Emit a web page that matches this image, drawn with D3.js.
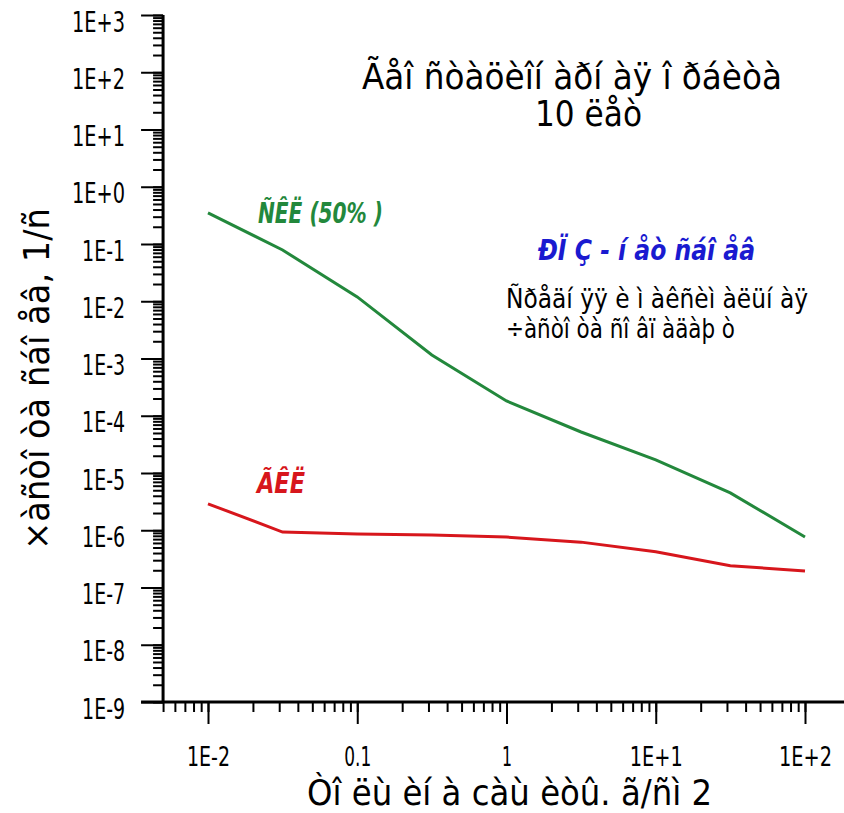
<!DOCTYPE html>
<html><head><meta charset="utf-8">
<script src="https://cdn.jsdelivr.net/npm/d3@7"></script>
<style>
html,body{margin:0;padding:0;background:#fff;}
svg{display:block;}
text{font-family:"Liberation Sans Narrow","Arial Narrow","DejaVu Sans Condensed","Liberation Sans",sans-serif;}
</style></head>
<body>
<svg id="c" width="844" height="813"></svg>
<script>
// ---- data ----
const xValues = [0.01, 0.0316, 0.1, 0.316, 1, 3.16, 10, 31.6, 100];
const skl50 = [0.35, 0.0785, 0.0119, 1.15e-3, 1.81e-4, 5.2e-5, 1.69e-5, 4.5e-6, 7.6e-7];
const gkl = [2.9e-6, 9.3e-7, 8.6e-7, 8.3e-7, 7.6e-7, 6.2e-7, 4.2e-7, 2.4e-7, 1.94e-7];
const seriesNames = ["ÑÊË (50% )", "ÃÊË"];
const yTickLabels = ["1E+3","1E+2","1E+1","1E+0","1E-1","1E-2","1E-3","1E-4","1E-5","1E-6","1E-7","1E-8","1E-9"];
const yTickValues = [1e3,1e2,1e1,1e0,1e-1,1e-2,1e-3,1e-4,1e-5,1e-6,1e-7,1e-8,1e-9];
const xTickLabels = ["1E-2","0.1","1","1E+1","1E+2"];
const xTickValues = [0.01,0.1,1,10,100];
const titleLines = ["Ãåî ñòàöèîí àðí àÿ î ðáèòà", "10 ëåò"];
const noteBlue = "ÐÏ Ç - í åò  ñáî åâ";
const noteLines = ["Ñðåäí ÿÿ è ì àêñèì àëüí àÿ", "÷àñòî òà ñî âï àäàþ ò"];
const xAxisTitle = "Òî ëù èí à càù èòû. ã/ñì 2";
const yAxisTitle = "×àñòî òà ñáî åâ, 1/ñ";

const svg = d3.select("#c");
const x = d3.scaleLog().domain([0.01, 100]).range([208, 805]);
const y = d3.scaleLog().domain([1e-9, 1e3]).range([702, 15]);
const xMin = 0.005, xMax = 200;
const x0 = x(xMin);

function minors(lo, hi) {
  const out = [];
  for (let e = Math.floor(Math.log10(lo)); e <= Math.ceil(Math.log10(hi)); e++) {
    for (let m = 1; m <= 9; m++) {
      const v = m * Math.pow(10, e);
      if (v >= lo * 0.999 && v <= hi * 1.001) out.push(v);
    }
  }
  return out;
}
function labelWidth(t) {
  if (t.length === 1) return 10;
  if (t.length === 3) return 27;
  return t.indexOf("+") >= 0 ? 53 : 43;
}

// Y axis
const yAxis = d3.axisLeft(y).tickValues(minors(1e-9, 1e3)).tickSize(10).tickFormat("");
const gy = svg.append("g").attr("transform", `translate(${x0},0)`).call(yAxis);
gy.select(".domain").remove();
gy.selectAll(".tick line").attr("stroke", "#000").attr("stroke-width", 2);
const yMajor = d3.axisLeft(y).tickValues(yTickValues).tickSize(22).tickPadding(16)
  .tickFormat((d, i) => yTickLabels[i]);
const gy2 = svg.append("g").attr("transform", `translate(${x0},0)`).call(yMajor);
gy2.select(".domain").remove();
gy2.selectAll(".tick line").attr("stroke", "#000").attr("stroke-width", 2);
gy2.selectAll(".tick text").attr("font-size", 28).attr("fill", "#000").attr("dy", 16)
  .each(function(d, i) {
    d3.select(this).attr("textLength", labelWidth(yTickLabels[i])).attr("lengthAdjust", "spacingAndGlyphs");
  });
svg.append("line").attr("x1", x0).attr("x2", x0).attr("y1", y(1e3)).attr("y2", y(1e-9))
  .attr("stroke", "#000").attr("stroke-width", 3);

// X axis
const xAxis = d3.axisBottom(x).tickValues(minors(xMin, xMax)).tickSize(10).tickFormat("");
const gx = svg.append("g").attr("transform", `translate(0,${y(1e-9)})`).call(xAxis);
gx.select(".domain").remove();
gx.selectAll(".tick line").attr("stroke", "#000").attr("stroke-width", 2);
const xMajor = d3.axisBottom(x).tickValues(xTickValues).tickSize(22).tickPadding(0)
  .tickFormat((d, i) => xTickLabels[i]);
const gx2 = svg.append("g").attr("transform", `translate(0,${y(1e-9)})`).call(xMajor);
gx2.select(".domain").remove();
gx2.selectAll(".tick line").attr("stroke", "#000").attr("stroke-width", 2);
gx2.selectAll(".tick text").attr("font-size", 26).attr("fill", "#000").attr("y", 64).attr("dy", 0)
  .each(function(d, i) {
    d3.select(this).attr("textLength", labelWidth(xTickLabels[i])).attr("lengthAdjust", "spacingAndGlyphs");
  });
svg.append("line").attr("x1", x0 - 22).attr("x2", 844).attr("y1", y(1e-9)).attr("y2", y(1e-9))
  .attr("stroke", "#000").attr("stroke-width", 3);

// lines
const line = d3.line().x((d, i) => x(xValues[i])).y(d => y(d));
svg.append("path").datum(skl50).attr("d", line).attr("fill", "none")
  .attr("stroke", "#23883c").attr("stroke-width", 3);
svg.append("path").datum(gkl).attr("d", line).attr("fill", "none")
  .attr("stroke", "#d7161c").attr("stroke-width", 3);

// labels
function txt(s, xx, yy, size, len, opts = {}) {
  const t = svg.append("text").attr("x", xx).attr("y", yy).attr("font-size", size)
    .attr("text-anchor", opts.anchor || "start").attr("fill", opts.fill || "#000").text(s);
  if (len) t.attr("textLength", len).attr("lengthAdjust", "spacingAndGlyphs");
  if (opts.italic) t.attr("font-style", "italic");
  if (opts.bold) t.attr("font-weight", "bold");
  return t;
}
txt(titleLines[0], 362, 89, 36, 420);
txt(titleLines[1], 535, 126, 36, 107);
txt(seriesNames[0], 258, 223, 28, 125, {fill: "#23883c", italic: true, bold: true});
txt(seriesNames[1], 257, 493, 28, 48, {fill: "#d7161c", italic: true, bold: true});
txt(noteBlue, 538, 260, 28, 217, {fill: "#1a1ad0", italic: true, bold: true});
txt(noteLines[0], 506, 308, 27, 302);
txt(noteLines[1], 506, 338, 27, 229);
txt(xAxisTitle, 307, 805, 35, 405);
txt(yAxisTitle, 0, 0, 36, 342).attr("transform", "translate(49,550) rotate(-90)");
</script>
</body></html>
